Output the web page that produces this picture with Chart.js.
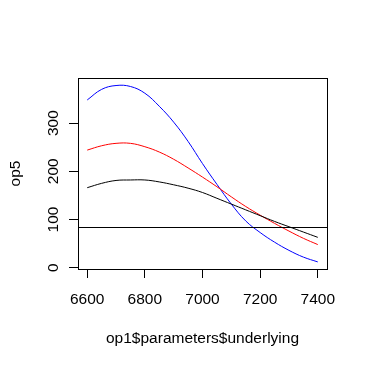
<!DOCTYPE html>
<html>
<head>
<meta charset="utf-8">
<script src="https://cdn.jsdelivr.net/npm/chart.js@4/dist/chart.umd.min.js"></script>
<style>
	html, body { margin: 0; padding: 0; background: #fff; }
	canvas { display: block; }
</style>
</head>
<body>
<canvas id="chart" width="368" height="367"></canvas>
<script>
let underlying = [6600, 6650, 6700, 6750, 6800, 6850, 6900, 6950, 7000, 7050, 7100, 7150, 7200, 7250, 7300, 7350, 7400];
let seriesBlack = [166, 175, 181, 182, 182, 178, 172, 165, 156, 144, 132, 120, 108, 96, 85, 74, 63];
let seriesRed = [244, 253, 258, 258, 251, 240, 225, 207, 188, 168, 147, 127, 109, 92, 76, 61, 48];
let seriesBlue = [348, 370, 378, 376, 362, 335, 302, 262, 216, 173, 132, 97, 73, 53, 36, 22, 12];
let hLineValue = 84.4;
let xTicks = [6600, 6800, 7000, 7200, 7400];
let yTicks = [0, 100, 200, 300];
let xTitle = 'op1$parameters$underlying';
let yTitle = 'op5';

let font = {family: 'Liberation Sans, Arial, sans-serif', size: 15.5};

function points(ys) {
	return underlying.map((x, i) => ({x, y: ys[i]}));
}

function line(ys, color) {
	return {
		data: points(ys),
		borderColor: color,
		borderWidth: 1,
		pointRadius: 0,
		fill: false,
		tension: 0.4,
	};
}

// box, abline(h=...) and rotated y labels like base R
let rStyle = {
	id: 'rStyle',
	afterDatasetsDraw(chart) {
		let {ctx, chartArea: a, scales: {y}} = chart;
		ctx.save();
		ctx.strokeStyle = '#000';
		ctx.lineWidth = 1;
		let hy = Math.round(y.getPixelForValue(hLineValue)) + 0.5;
		ctx.beginPath();
		ctx.moveTo(a.left, hy);
		ctx.lineTo(a.right, hy);
		ctx.stroke();
		ctx.strokeRect(a.left + 0.5, a.top + 0.5, a.right - a.left, a.bottom - a.top);
		ctx.fillStyle = '#000';
		ctx.font = font.size + 'px ' + font.family;
		ctx.textAlign = 'center';
		ctx.textBaseline = 'middle';
		yTicks.forEach((v) => {
			ctx.save();
			ctx.translate(53.5, y.getPixelForValue(v));
			ctx.rotate(-Math.PI / 2);
			ctx.fillText(String(v), 0, 0);
			ctx.restore();
		});
		ctx.restore();
	},
};

new Chart(document.getElementById('chart'), {
	type: 'line',
	data: {
		datasets: [
			line(seriesBlack, '#000000'),
			line(seriesRed, '#FF0000'),
			line(seriesBlue, '#0000FF'),
		],
	},
	options: {
		responsive: false,
		animation: false,
		events: [],
		layout: {padding: {top: 78, right: 41, left: 0, bottom: 0}},
		plugins: {legend: {display: false}, tooltip: {enabled: false}},
		scales: {
			x: {
				type: 'linear',
				min: 6568,
				max: 7432,
				afterBuildTicks: (s) => { s.ticks = xTicks.map((value) => ({value})); },
				afterFit: (s) => { s.height = 98; },
				grid: {drawOnChartArea: false, tickLength: 9, color: '#000', lineWidth: 1},
				border: {display: false},
				ticks: {
					color: '#000',
					font,
					padding: 12.7,
					maxRotation: 0,
					autoSkip: false,
					callback: (v) => String(v),
				},
				title: {display: true, text: xTitle, color: '#000', font, padding: 18.7},
			},
			y: {
				type: 'linear',
				min: -2.7,
				max: 393.6,
				afterBuildTicks: (s) => { s.ticks = yTicks.map((value) => ({value})); },
				afterFit: (s) => { s.width = 78; },
				grid: {drawOnChartArea: false, tickLength: 9, color: '#000', lineWidth: 1},
				border: {display: false},
				ticks: {display: false},
				title: {display: true, text: yTitle, color: '#000', font, padding: 6.2},
			},
		},
	},
	plugins: [rStyle],
});
</script>
</body>
</html>
